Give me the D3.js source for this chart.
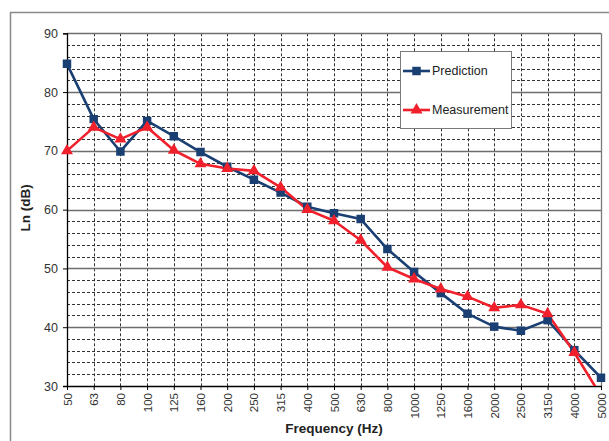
<!DOCTYPE html>
<html><head><meta charset="utf-8">
<script src="https://cdn.jsdelivr.net/npm/d3@7"></script>
<style>body{margin:0;background:#fff}svg{display:block}text{font-family:"Liberation Sans",Arial,sans-serif}</style>
</head><body><svg id="c" width="609" height="441"></svg>
<script>
const categories = ["50","63","80","100","125","160","200","250","315","400","500","630","800","1000","1250","1600","2000","2500","3150","4000","5000"];
const prediction = [84.8,75.4,69.9,75.1,72.5,69.8,67.3,65.1,62.9,60.5,59.4,58.4,53.3,49.4,45.8,42.3,40.1,39.4,41.2,36.1,31.4];
const measurement = [70.0,74.0,72.0,74.0,70.1,67.8,67.0,66.6,63.8,60.0,58.1,54.8,50.2,48.2,46.5,45.2,43.3,43.8,42.3,35.7,28.3];
const yMajorTicks = [30,40,50,60,70,80,90];
const yMinorTicks = [32,34,36,38,42,44,46,48,52,54,56,58,62,64,66,68,72,74,76,78,82,84,86,88];
const seriesNames = ["Prediction","Measurement"];
const seriesColors = ["#1a3f73","#f0202c"];

const svg = d3.select("#c");
const L=67,R=601,T=33.3,B=386;
const x = d3.scalePoint().domain(categories).range([L,R]);
const y = d3.scaleLinear().domain([30,90]).range([B,T]);

// outer frame
svg.append("rect").attr("x",10.5).attr("y",12.5).attr("width",620).attr("height",450)
  .attr("fill","none").attr("stroke","#8a8a8a").attr("stroke-width",1.5);

const g = svg.append("g");
g.selectAll(".hmin").data(yMinorTicks).join("line")
  .attr("x1",L).attr("x2",R).attr("y1",d=>Math.round(y(d))+0.5).attr("y2",d=>Math.round(y(d))+0.5)
  .attr("stroke","#333").attr("stroke-width",1).attr("stroke-dasharray","3,2");
g.selectAll(".vg").data(categories.slice(1,-1)).join("line")
  .attr("x1",d=>Math.round(x(d))+0.5).attr("x2",d=>Math.round(x(d))+0.5).attr("y1",T).attr("y2",B)
  .attr("stroke","#333").attr("stroke-width",1).attr("stroke-dasharray","3,2");
g.selectAll(".hmaj").data(yMajorTicks.slice(1)).join("line")
  .attr("x1",L).attr("x2",R).attr("y1",d=>Math.round(y(d))+0.5).attr("y2",d=>Math.round(y(d))+0.5)
  .attr("stroke","#6e6e6e").attr("stroke-width",1.3);
g.append("line").attr("x1",R+0.5).attr("x2",R+0.5).attr("y1",T).attr("y2",B).attr("stroke","#7a7a7a").attr("stroke-width",1.3);

const yAxis = d3.axisLeft(y).tickValues(yMajorTicks).tickSize(4).tickPadding(5);
const ya = svg.append("g").attr("transform",`translate(${L},0)`).call(yAxis);
ya.select(".domain").attr("stroke","#000").attr("stroke-width",1.3);
ya.selectAll(".tick line").attr("stroke","#000");
ya.selectAll(".tick text").attr("font-size",12.5).attr("fill","#333");

const xAxis = d3.axisBottom(x).tickSize(4).tickSizeOuter(0).tickPadding(3);
const xa = svg.append("g").attr("transform",`translate(0,${B})`).call(xAxis);
xa.select(".domain").attr("stroke","#000").attr("stroke-width",1.3);
xa.selectAll(".tick line").attr("stroke","#000");
xa.selectAll(".tick text").attr("font-size",11.5).attr("fill","#333")
  .attr("transform","rotate(-90)").attr("text-anchor","end").attr("dy","0.35em").attr("x",-7).attr("y",0);

svg.append("text").attr("x",(L+R)/2).attr("y",433).attr("text-anchor","middle")
  .attr("font-size",13.5).attr("font-weight","bold").attr("fill","#222").text("Frequency (Hz)");
svg.append("text").attr("transform","translate(30,208) rotate(-90)").attr("text-anchor","middle")
  .attr("font-size",13.5).attr("font-weight","bold").attr("fill","#222").text("Ln (dB)");

svg.append("defs").append("clipPath").attr("id","clip").append("rect")
  .attr("x",L-10).attr("y",T-10).attr("width",R-L+20).attr("height",B-T+10);
const plot = svg.append("g").attr("clip-path","url(#clip)");
const line = d3.line().x((d,i)=>x(categories[i])).y(d=>y(d));
[prediction,measurement].forEach((s,k)=>{
  plot.append("path").datum(s).attr("d",line).attr("fill","none")
    .attr("stroke",seriesColors[k]).attr("stroke-width",2.6).attr("stroke-linejoin","round");
});
const sq = d3.symbol().type(d3.symbolSquare).size(72);
const tri = d3.symbol().type(d3.symbolTriangle).size(62);
const vis = d=> d>=30;
plot.selectAll(".pm").data(prediction.map((v,i)=>[categories[i],v]).filter(d=>vis(d[1]))).join("path")
  .attr("d",sq).attr("transform",d=>`translate(${x(d[0])},${y(d[1])})`).attr("fill",seriesColors[0]);
plot.selectAll(".mm").data(measurement.map((v,i)=>[categories[i],v]).filter(d=>vis(d[1]))).join("path")
  .attr("d",tri).attr("transform",d=>`translate(${x(d[0])},${y(d[1])})`).attr("fill",seriesColors[1]);

const lg = svg.append("g");
lg.append("rect").attr("x",400.5).attr("y",51.5).attr("width",111).attr("height",77)
  .attr("fill","#fff").attr("stroke","#7a7a7a").attr("stroke-width",1);
const ly=[71,110];
seriesNames.forEach((n,k)=>{
  lg.append("line").attr("x1",403).attr("x2",430).attr("y1",ly[k]).attr("y2",ly[k])
    .attr("stroke",seriesColors[k]).attr("stroke-width",2.6);
  lg.append("path").attr("d",k===0?sq:tri).attr("transform",`translate(416.5,${ly[k]})`).attr("fill",seriesColors[k]);
  lg.append("text").attr("x",432).attr("y",ly[k]).attr("dy","0.35em").attr("font-size",12.5)
    .attr("fill","#222").text(n);
});
</script></body></html>
